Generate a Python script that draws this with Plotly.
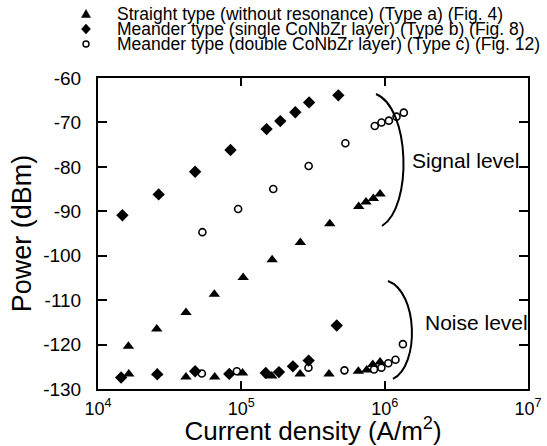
import plotly.graph_objects as go

# ---------------- data ----------------
# Type a: straight type (triangles)
a_sig_x = [1.63e4, 2.57e4, 4.11e4, 6.48e4, 1.03e5, 1.64e5, 2.58e5, 4.14e5, 6.59e5, 7.41e5, 8.34e5, 9.29e5]
a_sig_y = [-120.4, -116.5, -112.8, -108.7, -104.9, -100.9, -97.0, -92.8, -88.9, -87.9, -87.1, -86.1]
a_noise_x = [1.64e4, 2.59e4, 4.11e4, 6.52e4, 1.02e5, 1.63e5, 2.57e5, 4.09e5, 6.55e5, 7.49e5, 8.26e5, 9.29e5]
a_noise_y = [-126.6, -126.4, -127.3, -127.3, -126.4, -127.1, -126.6, -126.6, -126.0, -125.7, -124.5, -123.9]
# Type b: meander single layer (diamonds)
b_sig_x = [1.48e4, 2.65e4, 4.76e4, 8.4e4, 1.50e5, 1.87e5, 2.38e5, 2.97e5, 4.75e5]
b_sig_y = [-90.9, -86.2, -81.1, -76.2, -71.5, -69.7, -67.7, -65.5, -63.9]
b_noise_x = [1.45e4, 2.59e4, 4.76e4, 8.24e4, 1.48e5, 1.83e5, 2.29e5, 2.95e5, 4.63e5]
b_noise_y = [-127.4, -126.7, -126.0, -126.6, -126.4, -126.2, -124.9, -123.6, -115.7]
# Type c: meander double layer (open circles)
c_sig_x = [5.35e4, 9.5e4, 1.67e5, 2.95e5, 5.32e5, 8.53e5, 9.5e5, 1.07e6, 1.21e6, 1.36e6]
c_sig_y = [-94.7, -89.5, -85.0, -79.8, -74.7, -70.8, -70.0, -69.6, -68.7, -67.8]
c_noise_x = [5.3e4, 9.3e4, 2.94e5, 5.24e5, 8.43e5, 9.49e5, 1.06e6, 1.19e6, 1.34e6]
c_noise_y = [-126.5, -126.0, -125.2, -125.8, -125.6, -125.2, -124.2, -123.4, -119.9]

legend_labels = [
    "Straight type (without resonance) (Type a) (Fig. 4)",
    "Meander type (single CoNbZr layer) (Type b) (Fig. 8)",
    "Meander type (double CoNbZr layer) (Type c) (Fig. 12)",
]
x_tick_vals = [1e4, 1e5, 1e6, 1e7]
x_tick_text = ["10<sup>4</sup>", "10<sup>5</sup>", "10<sup>6</sup>", "10<sup>7</sup>"]
y_tick_vals = [-130, -120, -110, -100, -90, -80, -70, -60]
y_tick_text = ["-130", "-120", "-110", "-100", "-90", "-80", "-70", "-60"]

# ---------------- layout geometry (pixels) ----------------
W, H = 547, 446
L, R, T, B = 98, 19, 78, 57
PW, PH = W - L - R, H - T - B
FONT = "Liberation Sans, Arial, sans-serif"
BLACK = "black"


def fx(px):
    return (px - L) / PW


def fy(py):
    return (H - B - py) / PH


def poly(pts):
    """pixel polygon -> paper-coordinate SVG path"""
    s = " ".join(("M" if i == 0 else "L") + f" {fx(x):.4f},{fy(y):.4f}" for i, (x, y) in enumerate(pts))
    return s + " Z"


def bezier(p0, c1, c2, p3):
    return (f"M {fx(p0[0]):.4f},{fy(p0[1]):.4f} C {fx(c1[0]):.4f},{fy(c1[1]):.4f} "
            f"{fx(c2[0]):.4f},{fy(c2[1]):.4f} {fx(p3[0]):.4f},{fy(p3[1]):.4f}")


sym = {
    "a": dict(symbol="triangle-up", size=10, color=BLACK),
    "b": dict(symbol="diamond", size=9.5, color=BLACK),
    "c": dict(symbol="circle-open", size=7, color=BLACK, line=dict(width=1.6, color=BLACK)),
}

fig = go.Figure()
fig.add_trace(go.Scatter(x=a_sig_x + a_noise_x, y=a_sig_y + a_noise_y, mode="markers",
                         marker=sym["a"], name=legend_labels[0], cliponaxis=False))
fig.add_trace(go.Scatter(x=b_sig_x + b_noise_x, y=b_sig_y + b_noise_y, mode="markers",
                         marker=sym["b"], name=legend_labels[1], cliponaxis=False))
fig.add_trace(go.Scatter(x=c_sig_x + c_noise_x, y=c_sig_y + c_noise_y, mode="markers",
                         marker=sym["c"], name=legend_labels[2], cliponaxis=False))

# ---------------- custom compact legend ----------------
leg_rows_py = [14, 29, 44]
sx = 86          # symbol centre (px)
leg_text_px = 115
shapes = []
cy = leg_rows_py[0]
shapes.append(dict(type="path", xref="paper", yref="paper",
                   path=poly([(sx - 4.5, cy + 3.5), (sx + 4.5, cy + 3.5), (sx, cy - 4.5)]),
                   fillcolor=BLACK, line=dict(color=BLACK, width=0.5)))
cy = leg_rows_py[1]
shapes.append(dict(type="path", xref="paper", yref="paper",
                   path=poly([(sx, cy - 5), (sx + 4.5, cy), (sx, cy + 5), (sx - 4.5, cy)]),
                   fillcolor=BLACK, line=dict(color=BLACK, width=0.5)))
cy = leg_rows_py[2]
shapes.append(dict(type="circle", xref="paper", yref="paper",
                   x0=fx(sx - 3), x1=fx(sx + 3), y0=fy(cy + 3), y1=fy(cy - 3),
                   line=dict(color=BLACK, width=1.4)))

annotations = []
for i, lab in enumerate(legend_labels):
    annotations.append(dict(text=lab, x=fx(leg_text_px), y=fy(leg_rows_py[i]), xref="paper", yref="paper",
                            xanchor="left", yanchor="middle", showarrow=False,
                            font=dict(family=FONT, size=17.5, color=BLACK)))
annotations.append(dict(text="Signal level", x=fx(410), y=fy(160), xref="paper", yref="paper",
                        xanchor="left", yanchor="middle", showarrow=False,
                        font=dict(family=FONT, size=21, color=BLACK)))
annotations.append(dict(text="Noise level", x=fx(423), y=fy(322), xref="paper", yref="paper",
                        xanchor="left", yanchor="middle", showarrow=False,
                        font=dict(family=FONT, size=21, color=BLACK)))

# brackets
shapes.append(dict(type="path", xref="paper", yref="paper",
                   path=bezier((376, 94), (410, 108), (413, 206), (382, 226)),
                   line=dict(color=BLACK, width=2)))
shapes.append(dict(type="path", xref="paper", yref="paper",
                   path=bezier((388, 281), (418, 292), (420, 365), (393, 379)),
                   line=dict(color=BLACK, width=2)))

fig.update_layout(
    width=W, height=H,
    margin=dict(l=L, r=R, t=T, b=B, pad=0, autoexpand=False),
    paper_bgcolor="white", plot_bgcolor="white",
    showlegend=False,
    font=dict(family=FONT, color=BLACK),
    annotations=annotations,
    shapes=shapes,
    xaxis=dict(type="log", range=[4, 7], automargin=False,
               tickvals=x_tick_vals, ticktext=x_tick_text,
               ticks="inside", ticklen=8, tickwidth=1.5, tickcolor=BLACK,
               showline=True, linecolor=BLACK, linewidth=2, mirror="ticks",
               showgrid=False, zeroline=False,
               tickfont=dict(family=FONT, size=18, color=BLACK), ticklabelstandoff=2,
               title=dict(text="Current density (A/m<sup>2</sup>)",
                          font=dict(family=FONT, size=26, color=BLACK), standoff=0)),
    yaxis=dict(range=[-130, -60], automargin=False,
               tickvals=y_tick_vals, ticktext=y_tick_text,
               ticks="inside", ticklen=9, tickwidth=1.5, tickcolor=BLACK,
               showline=True, linecolor=BLACK, linewidth=2, mirror="ticks",
               showgrid=False, zeroline=False,
               tickfont=dict(family=FONT, size=19, color=BLACK), ticklabelstandoff=11,
               title=dict(text="Power (dBm)", font=dict(family=FONT, size=27, color=BLACK), standoff=4)),
)

fig.write_html("out.html")
